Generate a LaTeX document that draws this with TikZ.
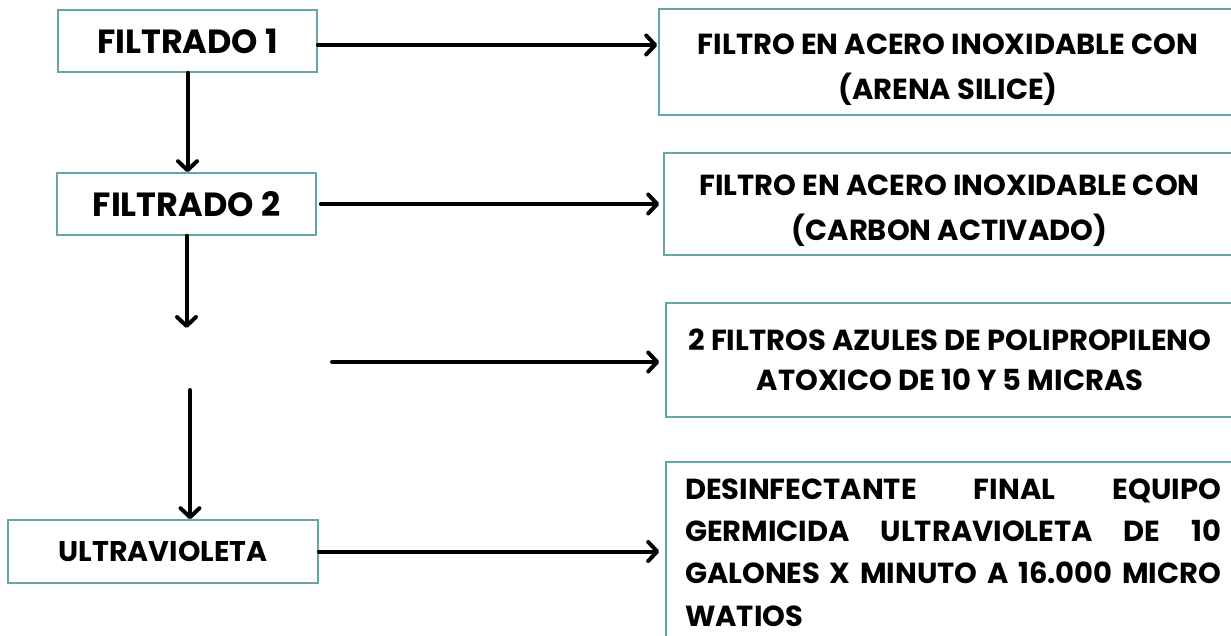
\documentclass[tikz,border=0pt]{standalone}
\usepackage{fontspec}
\setmainfont{Poppins}
\usetikzlibrary{arrows.meta}
\definecolor{boxline}{RGB}{104,164,164}
\newcommand\shiftedlines[2]{\raisebox{-#1}[\height][\depth]{\begin{tabular}{@{}c@{}}#2\end{tabular}}}
\begin{document}
\begin{tikzpicture}[x=1pt,y=-1pt,
  box/.style={draw=boxline, line width=1.6pt, fill=white, inner sep=0pt},
  leftbox/.style={box, font=\fontsize{33.5}{40}\selectfont\bfseries},
  rightbox/.style={box, font=\fontsize{29}{45}\selectfont\bfseries},
  arr/.style={line width=4pt, line cap=round, -{Straight Barb[length=9pt,width=19pt,line cap=round,line join=round]}},
]
\useasboundingbox (0,0) rectangle (1231,636);
\clip (0,0) rectangle (1231,636);

% left column
\node[leftbox, minimum width=259pt, minimum height=62pt] (f1) at (187.5,41) {FILTRADO 1};
\node[leftbox, minimum width=259pt, minimum height=62pt] (f2) at (186.5,204) {FILTRADO 2};
\node[leftbox, minimum width=310pt, minimum height=63pt, font=\fontsize{28.5}{36}\selectfont\bfseries] (uv) at (163,551.5) {ULTRAVIOLETA};

% right column
\node[rightbox, minimum width=578pt, minimum height=106pt] (r1) at (948,62)
  {\shiftedlines{6pt}{FILTRO EN ACERO INOXIDABLE CON\\(ARENA SILICE)}};
\node[rightbox, minimum width=571pt, minimum height=102pt] (r2) at (949.5,204)
  {\shiftedlines{5pt}{FILTRO EN ACERO INOXIDABLE CON\\(CARBON ACTIVADO)}};
\node[rightbox, minimum width=568pt, minimum height=114pt, font=\fontsize{29}{40}\selectfont\bfseries] (r3) at (950,360)
  {\shiftedlines{2.5pt}{2 FILTROS AZULES DE POLIPROPILENO\\ATOXICO DE 10 Y 5 MICRAS}};
\node[box, minimum width=574pt, minimum height=181pt, align=left, font=\fontsize{29}{42.3}\selectfont\bfseries] (r4) at (953,552.5) {%
\makebox[536pt][s]{DESINFECTANTE\hfill FINAL\hfill EQUIPO}\\
\makebox[536pt][s]{GERMICIDA\hfill ULTRAVIOLETA\hfill DE\hfill 10}\\
\makebox[536pt][s]{GALONES X MINUTO A 16.000 MICRO}\\
\makebox[536pt][l]{WATIOS}};

% free ends of the broken vertical connector and the third horizontal arrow
\coordinate (e1) at (188,328);
\coordinate (s2) at (190,390);
\coordinate (s3) at (332,362);

% vertical connectors
\draw[arr] (f1.south) -- (f1.south |- f2.north);
\draw[arr] (f2.south) -- (f2.south |- e1);
\draw[arr] (s2) -- (s2 |- uv.north);

% horizontal connectors
\draw[arr, shorten >=1pt] ([yshift=-4pt]f1.east) -- ([yshift=-4pt]f1.east -| r1.west);
\draw[arr, shorten <=4pt, shorten >=4pt] (f2.east) -- (f2.east -| r2.west);
\draw[arr, shorten >=6pt] (s3) -- (s3 -| r3.west);
\draw[arr, shorten >=6pt] (uv.east) -- (uv.east -| r4.west);
\end{tikzpicture}
\end{document}
